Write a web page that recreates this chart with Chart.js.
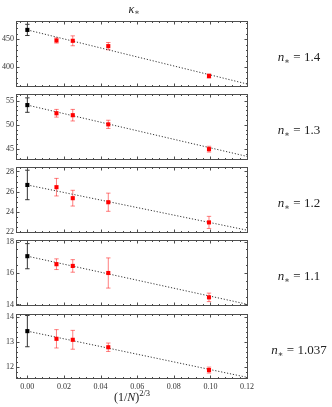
<!DOCTYPE html>
<html>
<head>
<meta charset="utf-8">
<script src="https://cdn.jsdelivr.net/npm/chart.js@4.4.1/dist/chart.umd.min.js"></script>
<style>
body { margin: 0; background: #fff; }
#wrap { position: relative; width: 332px; height: 407px; }
#wrap canvas { position: absolute; left: 0; top: 0; }
</style>
</head>
<body>
<div id="wrap"></div>
<script>
// (1/N)^(2/3) for N = 500, 256, 108, 32
var xSizes = [0.0159, 0.0248, 0.0442, 0.0992];
var nLabels = ['1.4', '1.3', '1.2', '1.1', '1.037'];

// extrapolated values at x = 0 (black)
var kappaInf = [466.8, 54.1, 26.66, 17.07, 13.43];
var kappaInfErr = [10.2, 1.5, 1.46, 0.8, 0.63];

// finite size values (red)
var kappa14 = [447.6, 447.0, 437.3, 383.0];
var err14 = [4.7, 9.0, 6.6, 3.8];
var kappa13 = [52.4, 52.0, 50.1, 44.95];
var err13 = [0.8, 1.2, 0.85, 0.6];
var kappa12 = [26.44, 25.35, 24.95, 22.95];
var err12 = [0.87, 0.78, 0.9, 0.6];
var kappa11 = [16.56, 16.45, 16.0, 14.45];
var err11 = [0.34, 0.4, 0.96, 0.27];
var kappa1037 = [13.12, 13.08, 12.78, 11.86];
var err1037 = [0.37, 0.38, 0.17, 0.12];

// fit line value at the right edge of the axes
var fitEnd = [368.1, 43.4, 22.16, 14.0, 11.56];

var xTicks = [0, 0.02, 0.04, 0.06, 0.08, 0.10, 0.12];
var yTicks = [[400, 450], [45, 50, 55], [22, 24, 26, 28], [14, 16, 18], [12, 13, 14]];

var kappaRed = [kappa14, kappa13, kappa12, kappa11, kappa1037];
var errRed = [err14, err13, err12, err11, err1037];

// layout
var W = 332, H = 407;
var xMin = -0.0062, xMax = 0.1205;
var panelTop = [21, 94, 167, 240, 314];
var panelBottom = [87, 160, 233, 306, 379];
var yMin = [363, 42.7, 21.9, 13.9, 11.5];
var yMax = [483, 56.4, 28.44, 18.1, 14.12];
var yMajor = [50, 5, 2, 2, 1];
var yMinor = [10, 1, 0.5, 0.5, 0.2];

var serif = "'Liberation Serif', 'DejaVu Serif', serif";
Chart.defaults.font.family = serif;
Chart.defaults.font.size = 8;
Chart.defaults.color = '#333';

var frameColor = '#4d4d4d';

function drawErr(ctx, x, y1, y2, color) {
	ctx.strokeStyle = color;
	ctx.beginPath();
	ctx.moveTo(x, y1); ctx.lineTo(x, y2);
	ctx.moveTo(x - 2.2, y1); ctx.lineTo(x + 2.2, y1);
	ctx.moveTo(x - 2.2, y2); ctx.lineTo(x + 2.2, y2);
	ctx.stroke();
}

function isMajor(v, step) {
	var r = v / step;
	return Math.abs(r - Math.round(r)) < 1e-6;
}

function textRuns(ctx, runs, cx, baseline) {
	var w = 0;
	runs.forEach(function(r) { ctx.font = r.font; w += ctx.measureText(r.t).width; });
	var x = cx - w / 2;
	runs.forEach(function(r) {
		ctx.font = r.font;
		ctx.fillText(r.t, x, baseline + (r.dy || 0));
		x += ctx.measureText(r.t).width;
	});
}

var panelPlugin = {
	id: 'panel',
	beforeDatasetsDraw: function(chart) {
		var i = chart.options.plugins.panel.index;
		var ctx = chart.ctx, xs = chart.scales.x, ys = chart.scales.y;
		ctx.save();
		ctx.lineWidth = 1;
		drawErr(ctx, xs.getPixelForValue(0),
			ys.getPixelForValue(kappaInf[i] - kappaInfErr[i]),
			ys.getPixelForValue(kappaInf[i] + kappaInfErr[i]), '#333');
		for (var j = 0; j < xSizes.length; j++) {
			drawErr(ctx, xs.getPixelForValue(xSizes[j]),
				ys.getPixelForValue(kappaRed[i][j] - errRed[i][j]),
				ys.getPixelForValue(kappaRed[i][j] + errRed[i][j]), 'rgba(255,0,0,0.5)');
		}
		ctx.restore();
	},
	afterDraw: function(chart) {
		var i = chart.options.plugins.panel.index;
		var ctx = chart.ctx, a = chart.chartArea, xs = chart.scales.x, ys = chart.scales.y;
		ctx.save();
		ctx.strokeStyle = frameColor;
		ctx.lineWidth = 1;
		ctx.strokeRect(Math.round(a.left) + 0.5, Math.round(a.top) + 0.5,
			Math.round(a.right - a.left) - 1, Math.round(a.bottom - a.top) - 1);

		// inward ticks on all sides
		ctx.beginPath();
		var k, v, p, len;
		for (k = Math.ceil(xMin / 0.004); k * 0.004 <= xMax; k++) {
			v = k * 0.004;
			p = Math.round(xs.getPixelForValue(v)) + 0.5;
			len = isMajor(v, 0.02) ? 3.5 : 2;
			ctx.moveTo(p, a.bottom); ctx.lineTo(p, a.bottom - len);
			ctx.moveTo(p, a.top); ctx.lineTo(p, a.top + len);
		}
		for (k = Math.ceil(yMin[i] / yMinor[i] - 1e-9); k * yMinor[i] <= yMax[i] + 1e-9; k++) {
			v = k * yMinor[i];
			p = Math.round(ys.getPixelForValue(v)) + 0.5;
			len = isMajor(v, yMajor[i]) ? 3.5 : 2;
			ctx.moveTo(a.left, p); ctx.lineTo(a.left + len, p);
			ctx.moveTo(a.right, p); ctx.lineTo(a.right - len, p);
		}
		ctx.stroke();

		// panel label on the right
		ctx.fillStyle = '#222';
		ctx.textBaseline = 'alphabetic';
		var mid = (a.top + a.bottom) / 2;
		textRuns(ctx, [
			{ t: 'n', font: 'italic 13px ' + serif },
			{ t: '\u2217', font: '8.5px ' + serif, dy: 3 },
			{ t: ' = ' + nLabels[i], font: '13px ' + serif }
		], 299, mid + 7);

		if (i === 0) {
			textRuns(ctx, [
				{ t: '\u03ba', font: 'italic 12px ' + serif },
				{ t: '\u2217', font: '8px ' + serif, dy: 2 }
			], 134, 13);
		}
		if (i === 4) {
			textRuns(ctx, [
				{ t: '(1/', font: '12px ' + serif },
				{ t: 'N', font: 'italic 12px ' + serif },
				{ t: ')', font: '12px ' + serif },
				{ t: '2/3', font: '8.5px ' + serif, dy: -5 }
			], 132, 401);
		}
		ctx.restore();
	}
};

var wrap = document.getElementById('wrap');
for (var i = 0; i < 5; i++) {
	var cv = document.createElement('canvas');
	cv.width = W; cv.height = H;
	wrap.appendChild(cv);
	var last = (i === 4);
	var redPts = xSizes.map(function(x, j) { return { x: x, y: kappaRed[i][j] }; });
	(function(i, last) {
		new Chart(cv, {
			type: 'scatter',
			data: {
				datasets: [
					{
						type: 'line',
						data: [{ x: 0, y: kappaInf[i] }, { x: xMax, y: fitEnd[i] }],
						borderColor: '#222',
						borderWidth: 0.9,
						borderDash: [1.2, 1.8],
						pointRadius: 0,
						fill: false,
						order: 3
					},
					{
						data: [{ x: 0, y: kappaInf[i] }],
						pointStyle: 'rect',
						pointRadius: 2.9,
						backgroundColor: '#000',
						borderColor: '#000',
						borderWidth: 0,
						order: 1
					},
					{
						data: redPts,
						pointStyle: 'rect',
						pointRadius: 2.9,
						backgroundColor: '#ff0000',
						borderColor: '#ff0000',
						borderWidth: 0,
						order: 2
					}
				]
			},
			options: {
				responsive: false,
				animation: false,
				events: [],
				layout: { padding: { left: 0, right: W - 248, top: panelTop[i], bottom: last ? 0 : H - panelBottom[i] } },
				plugins: { legend: { display: false }, tooltip: { enabled: false }, panel: { index: i } },
				scales: {
					x: {
						type: 'linear',
						min: xMin, max: xMax,
						display: last,
						grid: { display: false, drawTicks: false },
						border: { display: false },
						afterBuildTicks: function(s) { s.ticks = xTicks.map(function(v) { return { value: v }; }); },
						ticks: { autoSkip: false, maxRotation: 0, padding: 3, callback: function(v) { return Number(v).toFixed(2); } },
						afterFit: function(s) { s.height = last ? H - panelBottom[4] : 0; }
					},
					y: {
						type: 'linear',
						min: yMin[i], max: yMax[i],
						grid: { display: false, drawTicks: false },
						border: { display: false },
						afterBuildTicks: function(s) { s.ticks = yTicks[i].map(function(v) { return { value: v }; }); },
						ticks: { padding: 2, callback: function(v) { return String(v); } },
						afterFit: function(s) { s.width = 16; }
					}
				}
			},
			plugins: [panelPlugin]
		});
	})(i, last);
}
</script>
</body>
</html>
